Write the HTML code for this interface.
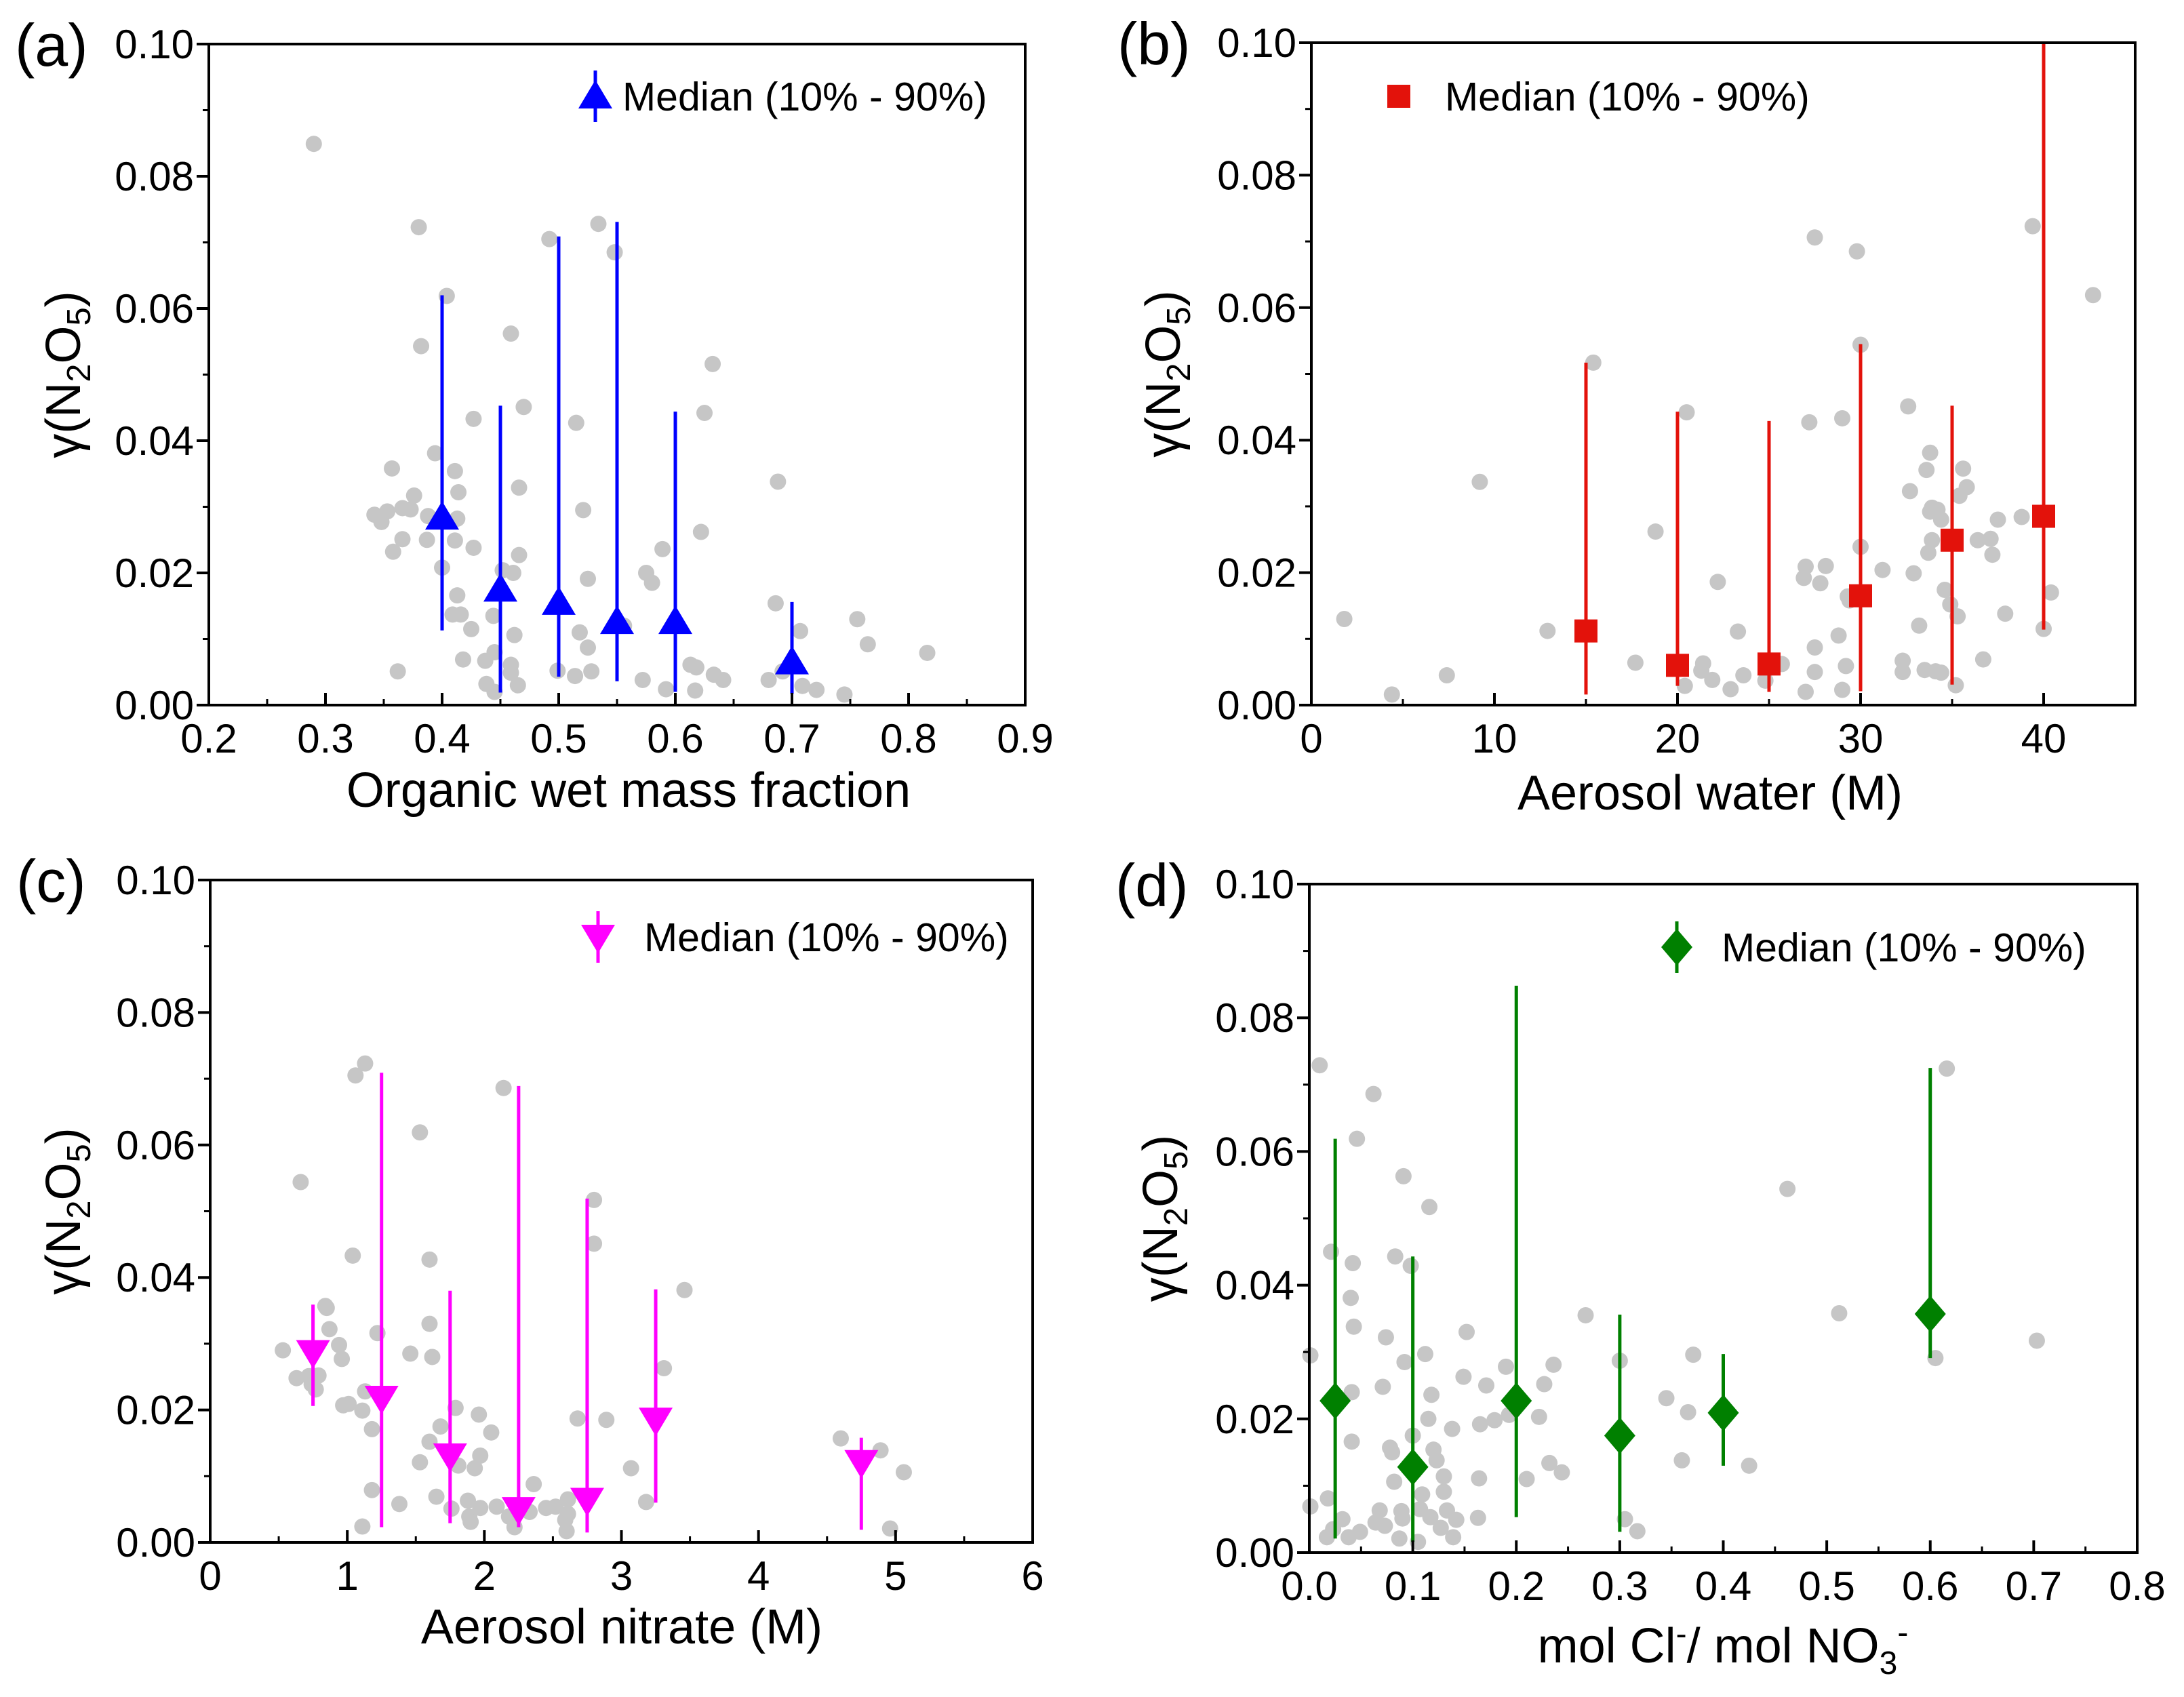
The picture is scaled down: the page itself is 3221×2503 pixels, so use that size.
<!DOCTYPE html>
<html><head><meta charset="utf-8">
<style>
html,body{margin:0;padding:0;background:#fff;}
svg{display:block;font-family:"Liberation Sans",Arial,sans-serif;}
</style></head>
<body>
<svg id="fig" width="3221" height="2503" viewBox="0 0 3221 2503" xmlns="http://www.w3.org/2000/svg"></svg>
<script>
// ---------- Panel (a) data ----------
const aPtsX=[0.29,0.38,0.382,0.404,0.492,0.534,0.548,0.459,0.632,0.625,0.47,0.427,0.515,0.394,0.357,0.411,0.414,0.466,0.376,0.366,0.373,0.342,0.353,0.348,0.388,0.413,0.521,0.688,0.622,0.366,0.387,0.411,0.427,0.358,0.466,0.589,0.4,0.452,0.461,0.575,0.525,0.58,0.413,0.686,0.409,0.416,0.444,0.756,0.425,0.518,0.707,0.462,0.525,0.765,0.816,0.445,0.418,0.437,0.459,0.613,0.618,0.362,0.499,0.528,0.459,0.692,0.633,0.641,0.514,0.572,0.68,0.438,0.465,0.709,0.721,0.592,0.617,0.445,0.745,0.556];
const aPtsY=[0.0849,0.0723,0.0543,0.0619,0.0705,0.0728,0.0685,0.0562,0.0516,0.0442,0.0451,0.0433,0.0427,0.0381,0.0358,0.0354,0.0322,0.0329,0.0317,0.0298,0.0296,0.0288,0.0293,0.0277,0.0286,0.0282,0.0295,0.0338,0.0262,0.0251,0.025,0.0249,0.0238,0.0232,0.0227,0.0236,0.0208,0.0204,0.02,0.02,0.0191,0.0185,0.0166,0.0154,0.0137,0.0137,0.0135,0.013,0.0115,0.011,0.0112,0.0106,0.0087,0.0092,0.0079,0.008,0.0069,0.0067,0.0061,0.0061,0.0057,0.0051,0.0052,0.0051,0.0049,0.0051,0.0046,0.0038,0.0044,0.0038,0.0038,0.0032,0.003,0.0029,0.0023,0.0024,0.0022,0.002,0.0016,0.012];
const aMedX=[0.4,0.45,0.5,0.55,0.6,0.7];
const aMed=[0.0284,0.0175,0.0155,0.0126,0.0126,0.0065];
const aLow=[0.0113,0.0019,0.0043,0.0036,0.002,0.0017];
const aHigh=[0.062,0.0453,0.0709,0.0731,0.0444,0.0156];
const aXTicks=["0.2","0.3","0.4","0.5","0.6","0.7","0.8","0.9"];
// ---------- Panel (b) data ----------
const bPtsX=[1.8,4.4,7.4,9.2,12.9,15.4,17.7,18.8,20.5,21.4,21.3,20.4,21.9,22.2,22.9,23.3,23.6,24.8,25.7,26.9,27.0,27.2,27.5,27.5,27.5,27.0,27.8,28.1,28.8,29.0,29.0,29.2,29.3,29.4,29.8,30.0,30.0,31.2,32.6,32.7,32.3,32.3,32.9,33.2,33.5,33.6,33.8,33.8,33.9,33.9,33.7,34.2,34.4,34.1,34.4,34.6,34.9,35.3,35.2,35.4,35.6,35.8,36.4,36.7,37.1,37.2,37.5,37.9,38.8,39.4,40.0,40.4,42.7];
const bPtsY=[0.013,0.0016,0.0045,0.0337,0.0112,0.0517,0.0064,0.0262,0.0442,0.0063,0.0052,0.0029,0.0038,0.0186,0.0024,0.0111,0.0045,0.0037,0.0062,0.0192,0.0209,0.0427,0.0706,0.0087,0.005,0.002,0.0184,0.021,0.0105,0.0433,0.0023,0.0059,0.0164,0.0158,0.0685,0.0544,0.0239,0.0204,0.0451,0.0323,0.0067,0.005,0.0199,0.012,0.0053,0.0355,0.0381,0.0292,0.0298,0.0249,0.023,0.0295,0.028,0.0051,0.0049,0.0174,0.0152,0.0134,0.003,0.0316,0.0357,0.0329,0.0249,0.0069,0.0251,0.0227,0.028,0.0138,0.0284,0.0723,0.0115,0.017,0.0619];
const bMedX=[15,20,25,30,35,40];
const bMed=[0.0112,0.006,0.0062,0.0165,0.0249,0.0285];
const bLow=[0.0016,0.0029,0.002,0.0021,0.0031,0.0114];
const bHigh=[0.0517,0.0443,0.0429,0.0545,0.0452,0.1];
const bXTicks=["0","10","20","30","40"];
// ---------- Panel (c) data ----------
const cPtsX=[0.53,0.66,0.63,0.72,0.79,0.77,0.74,0.84,0.85,0.87,0.94,0.96,0.97,1.01,1.04,1.06,1.13,1.11,1.13,1.22,1.18,1.18,1.11,1.38,1.46,1.53,1.6,1.6,1.62,1.6,1.53,1.65,1.68,1.79,1.81,1.76,1.88,1.89,1.9,1.93,1.96,1.97,1.97,2.05,2.09,2.14,2.18,2.22,2.33,2.36,2.45,2.52,2.59,2.6,2.61,2.61,2.68,2.8,2.8,2.89,3.07,3.18,3.31,3.46,4.6,4.89,5.06,4.96];
const cPtsY=[0.029,0.0544,0.0248,0.0251,0.0252,0.0231,0.0239,0.0357,0.0354,0.0322,0.0298,0.0277,0.0207,0.0209,0.0433,0.0705,0.0723,0.0199,0.0228,0.0316,0.0171,0.0079,0.0024,0.0058,0.0285,0.0619,0.0427,0.033,0.028,0.0152,0.0121,0.0069,0.0175,0.0203,0.0116,0.0051,0.0063,0.0039,0.0031,0.0112,0.0193,0.0131,0.0052,0.0166,0.0054,0.0686,0.0039,0.0023,0.0046,0.0088,0.0052,0.0054,0.0034,0.0017,0.0043,0.0065,0.0187,0.0517,0.0451,0.0185,0.0112,0.0061,0.0263,0.0381,0.0157,0.0139,0.0106,0.0021];
const cMedX=[0.75,1.25,1.75,2.25,2.75,3.25,4.75];
const cMed=[0.0287,0.0218,0.0131,0.005,0.0064,0.0185,0.0121];
const cLow=[0.0206,0.0023,0.0029,0.0023,0.0015,0.006,0.0019];
const cHigh=[0.0359,0.0709,0.038,0.0689,0.0519,0.0382,0.0158];
const cXTicks=["0","1","2","3","4","5","6"];
// ---------- Panel (d) data ----------
const dPtsX=[0.01,0.062,0.046,0.091,0.116,0.021,0.042,0.083,0.098,0.04,0.043,0.074,0.001,0.112,0.092,0.152,0.267,0.236,0.19,0.149,0.171,0.227,0.071,0.041,0.118,0.115,0.165,0.179,0.193,0.222,0.3,0.345,0.366,0.371,0.36,0.425,0.462,0.512,0.616,0.605,0.703,0.041,0.1,0.138,0.078,0.08,0.12,0.123,0.13,0.164,0.082,0.232,0.244,0.21,0.13,0.109,0.018,0.001,0.068,0.089,0.107,0.133,0.032,0.064,0.073,0.09,0.117,0.142,0.163,0.023,0.049,0.017,0.038,0.087,0.105,0.127,0.139,0.305,0.317];
const dPtsY=[0.0729,0.0686,0.0619,0.0563,0.0517,0.045,0.0433,0.0443,0.0429,0.0381,0.0338,0.0322,0.0295,0.0297,0.0285,0.033,0.0355,0.0281,0.0278,0.0263,0.025,0.0252,0.0248,0.024,0.0236,0.02,0.0192,0.0198,0.0206,0.0203,0.0287,0.0231,0.021,0.0296,0.0138,0.013,0.0544,0.0358,0.0724,0.0291,0.0317,0.0166,0.0175,0.0185,0.0157,0.015,0.0154,0.0138,0.0114,0.0111,0.0106,0.0134,0.012,0.011,0.0091,0.0087,0.0081,0.0069,0.0063,0.0062,0.0065,0.0063,0.005,0.0045,0.004,0.0051,0.0053,0.0049,0.0052,0.0035,0.0031,0.0023,0.0023,0.0021,0.0016,0.0037,0.0023,0.005,0.0032];
const dMedX=[0.025,0.1,0.2,0.3,0.4,0.6];
const dMed=[0.0227,0.0128,0.0227,0.0175,0.0209,0.0357];
const dLow=[0.0021,0.0016,0.0053,0.0031,0.013,0.0291];
const dHigh=[0.0619,0.0443,0.0848,0.0356,0.0297,0.0725];
const dXTicks=["0.0","0.1","0.2","0.3","0.4","0.5","0.6","0.7","0.8"];
const yTicks=["0.00","0.02","0.04","0.06","0.08","0.10"];

const NS="http://www.w3.org/2000/svg";
const svg=document.getElementById('fig');
function mk(tag,attrs,parent){const e=document.createElementNS(NS,tag);for(const k in attrs)e.setAttribute(k,attrs[k]);(parent||svg).appendChild(e);return e;}

function panel(cfg){
  const g=mk('g',{});
  
  
  const X=v=>cfg.L+(v-cfg.xmin)/(cfg.xmax-cfg.xmin)*(cfg.R-cfg.L);
  const Y=v=>cfg.B-(v-0)/(0.1)*(cfg.B-cfg.T);
  for(let i=0;i<cfg.px.length;i++){
    const c=mk('circle',{cx:X(cfg.px[i]),cy:Y(cfg.py[i]),r:12,fill:'#c6c6c6'},g);
    
    
  }
  for(let i=0;i<cfg.mx.length;i++){
    const x=X(cfg.mx[i]);
    const l=mk('line',{x1:x,x2:x,y1:Y(cfg.lo[i]),y2:Y(Math.min(cfg.hi[i],0.1)),stroke:cfg.color,'stroke-width':5},g);
    
    
    const m=marker(g,cfg.shape,x,Y(cfg.md[i]),cfg.color);
    
    
  }
  const f=mk('rect',{x:cfg.L,y:cfg.T,width:cfg.R-cfg.L,height:cfg.B-cfg.T,fill:'none',stroke:'#000','stroke-width':4},g);
  
  
  for(let i=0;i<yTicks.length;i++){
    const v=parseFloat(yTicks[i]);const y=Y(v);
    mk('line',{x1:cfg.L-18,x2:cfg.L,y1:y,y2:y,stroke:'#000','stroke-width':4},g);
    if(i<yTicks.length-1) mk('line',{x1:cfg.L-9,x2:cfg.L,y1:Y(v+0.01),y2:Y(v+0.01),stroke:'#000','stroke-width':3},g);
    const t=mk('text',{x:cfg.L-22,y:y+21,'font-size':60,'text-anchor':'end',fill:'#000'},g);
    t.textContent=yTicks[i];
    
    
  }
  for(let i=0;i<cfg.xt.length;i++){
    const v=parseFloat(cfg.xt[i]);const x=X(v);
    mk('line',{x1:x,x2:x,y1:cfg.B-18,y2:cfg.B,stroke:'#000','stroke-width':4},g);
    const half=v+cfg.xstep/2;
    if(half<=cfg.xmax+1e-9) mk('line',{x1:X(half),x2:X(half),y1:cfg.B-9,y2:cfg.B,stroke:'#000','stroke-width':3},g);
    const t=mk('text',{x:x,y:cfg.B+70,'font-size':60,'text-anchor':'middle',fill:'#000'},g);
    t.textContent=cfg.xt[i];
    
    
  }
  const xt=mk('text',{x:cfg.xtX,y:cfg.xtY,'font-size':72,'text-anchor':'middle',fill:'#000'},g);
  xt.innerHTML=cfg.xtitle;
  
  
  const yt=mk('text',{x:0,y:0,'font-size':72,'text-anchor':'middle',fill:'#000',transform:`translate(${cfg.ytX},${(cfg.T+cfg.B)/2}) rotate(-90)`},g);
  yt.innerHTML='γ(N<tspan font-size="49" dy="15">2</tspan><tspan dy="-15">O</tspan><tspan font-size="49" dy="15">5</tspan><tspan dy="-15">)</tspan>';
  
  
  const pl=mk('text',{x:cfg.L-286,y:cfg.T+32,'font-size':88,fill:'#000'},g);
  pl.textContent='('+cfg.id+')';
  
  
  const lg=mk('g',{},g);
  
  
  if(cfg.legBar) mk('line',{x1:cfg.legX,x2:cfg.legX,y1:cfg.legY-38,y2:cfg.legY+38,stroke:cfg.color,'stroke-width':5},lg);
  marker(lg,cfg.shape,cfg.legX,cfg.legY,cfg.color);
  const lt=mk('text',{x:cfg.legTX,y:cfg.legY+21,'font-size':59,fill:'#000'},lg);
  lt.textContent='Median (10% - 90%)';
}
function marker(g,shape,x,y,c){
  let p;
  if(shape==='tri') p=`${x},${y-24} ${x+25},${y+18} ${x-25},${y+18}`;
  else if(shape==='itri') p=`${x-25},${y-18} ${x+25},${y-18} ${x},${y+24}`;
  else if(shape==='sq') p=`${x-17},${y-17} ${x+17},${y-17} ${x+17},${y+17} ${x-17},${y+17}`;
  else p=`${x},${y-27} ${x+23},${y} ${x},${y+27} ${x-23},${y}`;
  return mk('polygon',{points:p,fill:c},g);
}
panel({id:'a',L:308,R:1512,T:65,B:1040,xmin:0.2,xmax:0.9,xstep:0.1,px:aPtsX,py:aPtsY,mx:aMedX,md:aMed,lo:aLow,hi:aHigh,xt:aXTicks,
  color:'#0000ff',shape:'tri',xtitle:'Organic wet mass fraction',xtX:927,xtY:1190,ytX:118,legX:878,legY:142,legTX:918,legBar:true});
panel({id:'b',L:1934,R:3149,T:63,B:1040,xmin:0,xmax:45,xstep:10,px:bPtsX,py:bPtsY,mx:bMedX,md:bMed,lo:bLow,hi:bHigh,xt:bXTicks,
  color:'#e3120b',shape:'sq',xtitle:'Aerosol water (M)',xtX:2522,xtY:1194,ytX:1740,legX:2063,legY:142,legTX:2131,legBar:false});
panel({id:'c',L:310,R:1523,T:1298,B:2275,xmin:0,xmax:6,xstep:1,px:cPtsX,py:cPtsY,mx:cMedX,md:cMed,lo:cLow,hi:cHigh,xt:cXTicks,
  color:'#ff00ff',shape:'itri',xtitle:'Aerosol nitrate (M)',xtX:917,xtY:2424,ytX:118,legX:882,legY:1382,legTX:950,legBar:true});
panel({id:'d',L:1931,R:3152,T:1304,B:2290,xmin:0,xmax:0.8,xstep:0.1,px:dPtsX,py:dPtsY,mx:dMedX,md:dMed,lo:dLow,hi:dHigh,xt:dXTicks,
  color:'#008000',shape:'dia',xtitle:'mol Cl<tspan font-size="48" dy="-26">-</tspan><tspan dy="26">/ mol NO</tspan><tspan font-size="48" dy="17">3</tspan><tspan font-size="48" dy="-45">-</tspan>',xtX:2541,xtY:2452,ytX:1736,legX:2473,legY:1397,legTX:2539,legBar:true});
</script>
</body></html>
